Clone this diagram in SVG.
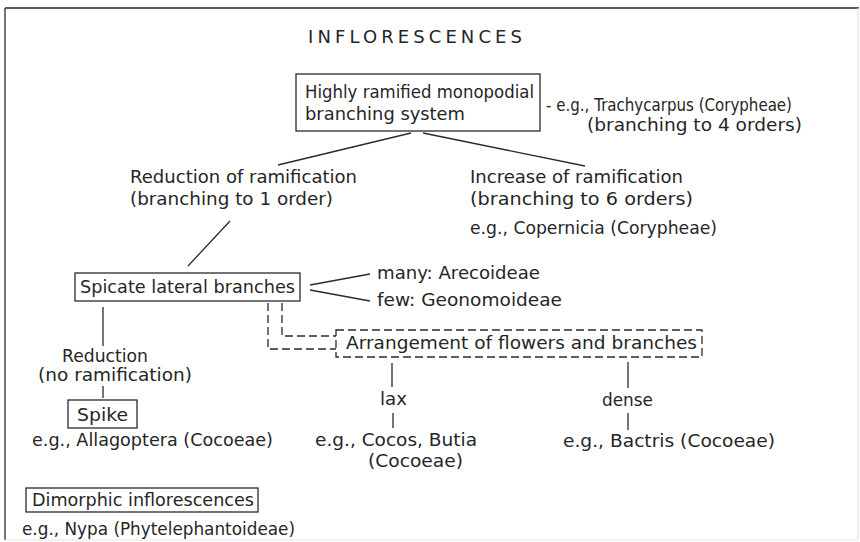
<svg xmlns="http://www.w3.org/2000/svg" width="860" height="542" viewBox="0 0 860 542">
<style>
  text { font-family: "DejaVu Sans", "Liberation Sans", sans-serif; font-size: 18px; fill: #262626; }
  .title { font-size: 18px; }
  .sm { font-size: 17px; }
  .box { fill: none; stroke: #2a2a2a; stroke-width: 1.3; }
  .dbox { fill: none; stroke: #2a2a2a; stroke-width: 1.3; stroke-dasharray: 8 4; }
  .ln { fill: none; stroke: #2a2a2a; stroke-width: 1.3; }
  .dln { fill: none; stroke: #2a2a2a; stroke-width: 1.3; stroke-dasharray: 8 4; }
</style>
<rect x="0" y="0" width="860" height="542" fill="#ffffff"/>
<g id="frame">
  <line x1="5" y1="8" x2="859" y2="8" class="ln" stroke-width="1.6"/>
  <line x1="5" y1="8" x2="5" y2="540" class="ln" stroke-width="1.6"/>
  <line x1="858" y1="8" x2="858" y2="540" stroke="#dcdcdc" stroke-width="1"/>
  <line x1="5" y1="540" x2="858" y2="540" stroke="#e6e6e6" stroke-width="1"/>
</g>
<g id="title">
  <text class="title" x="308" y="43" textLength="214" lengthAdjust="spacing">INFLORESCENCES</text>
</g>
<g id="connectors">
  <line class="ln" x1="411" y1="133" x2="278" y2="165"/>
  <line class="ln" x1="423" y1="133" x2="585" y2="166"/>
  <line class="ln" x1="230" y1="221" x2="188" y2="266"/>
  <line class="ln" x1="310" y1="285" x2="370" y2="274"/>
  <line class="ln" x1="310" y1="290" x2="370" y2="301"/>
  <line class="ln" x1="103" y1="307" x2="103" y2="346"/>
  <line class="ln" x1="103" y1="386" x2="103" y2="398"/>
  <polyline class="dln" points="282,303 282,336 336,336"/>
  <polyline class="dln" points="268,303 268,349 336,349"/>
  <line class="ln" x1="392" y1="363" x2="392" y2="387"/>
  <line class="ln" x1="393" y1="413" x2="393" y2="428"/>
  <line class="ln" x1="628" y1="362" x2="628" y2="388"/>
  <line class="ln" x1="628" y1="413" x2="628" y2="430"/>
</g>
<g id="node-highly">
  <rect class="box" x="296" y="74" width="244" height="57"/>
  <text x="305" y="98" textLength="229" lengthAdjust="spacingAndGlyphs">Highly ramified monopodial</text>
  <text x="305" y="120" textLength="160" lengthAdjust="spacingAndGlyphs">branching system</text>
</g>
<g id="node-trachycarpus">
  <text class="sm" x="546" y="111" textLength="246" lengthAdjust="spacingAndGlyphs">- e.g., Trachycarpus (Corypheae)</text>
  <text x="587" y="131" textLength="215" lengthAdjust="spacingAndGlyphs">(branching to 4 orders)</text>
</g>
<g id="node-reduction">
  <text x="130" y="183" textLength="227" lengthAdjust="spacingAndGlyphs">Reduction of ramification</text>
  <text x="130" y="205" textLength="203" lengthAdjust="spacingAndGlyphs">(branching to 1 order)</text>
</g>
<g id="node-increase">
  <text x="470" y="183" textLength="213" lengthAdjust="spacingAndGlyphs">Increase of ramification</text>
  <text x="470" y="205" textLength="223" lengthAdjust="spacingAndGlyphs">(branching to 6 orders)</text>
  <text x="470" y="234" textLength="247" lengthAdjust="spacingAndGlyphs">e.g., Copernicia (Corypheae)</text>
</g>
<g id="node-spicate">
  <rect class="box" x="75" y="273" width="225" height="28"/>
  <text x="80" y="293" textLength="215" lengthAdjust="spacingAndGlyphs">Spicate lateral branches</text>
</g>
<g id="node-many">
  <text x="377" y="279" textLength="163" lengthAdjust="spacingAndGlyphs">many: Arecoideae</text>
</g>
<g id="node-few">
  <text x="377" y="306" textLength="185" lengthAdjust="spacingAndGlyphs">few: Geonomoideae</text>
</g>
<g id="node-reduction2">
  <text class="sm" x="62" y="362" textLength="86" lengthAdjust="spacingAndGlyphs">Reduction</text>
  <text class="sm" x="38" y="381" textLength="154" lengthAdjust="spacingAndGlyphs">(no ramification)</text>
</g>
<g id="node-spike">
  <rect class="box" x="68" y="400" width="69" height="28"/>
  <text x="77" y="421" textLength="51" lengthAdjust="spacingAndGlyphs">Spike</text>
  <text x="32" y="446" textLength="241" lengthAdjust="spacingAndGlyphs">e.g., Allagoptera (Cocoeae)</text>
</g>
<g id="node-dimorphic">
  <rect class="box" x="26" y="488" width="232" height="24"/>
  <text x="32" y="506" textLength="222" lengthAdjust="spacingAndGlyphs">Dimorphic inflorescences</text>
  <text x="22" y="535" textLength="273" lengthAdjust="spacingAndGlyphs">e.g., Nypa (Phytelephantoideae)</text>
</g>
<g id="node-arrangement">
  <rect class="dbox" x="336" y="330" width="366" height="27"/>
  <text x="346" y="349" textLength="351" lengthAdjust="spacingAndGlyphs">Arrangement of flowers and branches</text>
</g>
<g id="node-lax">
  <text x="380" y="405" textLength="27" lengthAdjust="spacingAndGlyphs">lax</text>
  <text x="315" y="446" textLength="162" lengthAdjust="spacingAndGlyphs">e.g., Cocos, Butia</text>
  <text x="368" y="467" textLength="95" lengthAdjust="spacingAndGlyphs">(Cocoeae)</text>
</g>
<g id="node-dense">
  <text x="602" y="406" textLength="51" lengthAdjust="spacingAndGlyphs">dense</text>
  <text x="563" y="447" textLength="212" lengthAdjust="spacingAndGlyphs">e.g., Bactris (Cocoeae)</text>
</g>
</svg>
